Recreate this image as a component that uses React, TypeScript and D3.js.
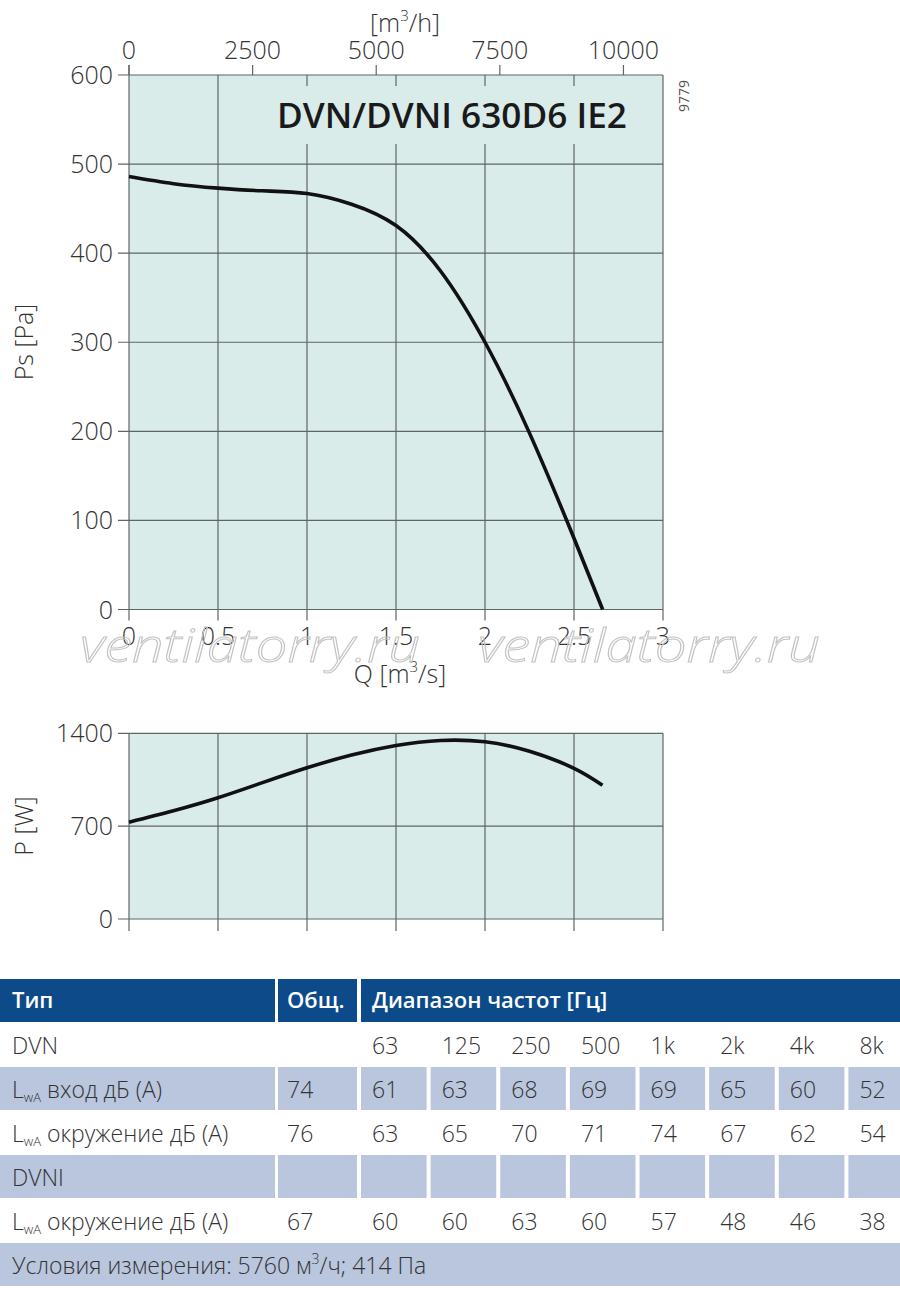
import React from "react";
import * as d3 from "d3";

// fan curve: static pressure vs air flow
const psQ = [0, 0.25, 0.5, 0.75, 1.0, 1.25, 1.5, 1.75, 2.0, 2.25, 2.5, 2.661];
const psVal = [486, 478, 473, 470, 467, 455, 431, 380, 300, 198, 80, 0];

// shaft power vs air flow
const pQ = [0, 0.25, 0.5, 0.75, 1.0, 1.25, 1.5, 1.75, 2.0, 2.25, 2.5, 2.66];
const pVal = [730, 816, 914, 1028, 1140, 1236, 1308, 1346, 1336, 1264, 1136, 1008];

const qTicks = [0, 0.5, 1, 1.5, 2, 2.5, 3];
const m3hTicks = [0, 2500, 5000, 7500, 10000];
const psTicks = [0, 100, 200, 300, 400, 500, 600];
const pTicks = [0, 700, 1400];

const freqs = ["63", "125", "250", "500", "1k", "2k", "4k", "8k"];
const dvnInletTotal = 74;
const dvnInlet = [61, 63, 68, 69, 69, 65, 60, 52];
const dvnAmbTotal = 76;
const dvnAmb = [63, 65, 70, 71, 74, 67, 62, 54];
const dvniAmbTotal = 67;
const dvniAmb = [60, 60, 63, 60, 57, 48, 46, 38];

const font = "'Open Sans', 'DejaVu Sans', sans-serif";
const bg = "#d9ecea";
const grid = "#5f6566";
const txt = "#333";
const blue = "#0c4a8a";
const shade = "#b9c6de";

const App: React.FC = () => {
  const x = d3.scaleLinear().domain([0, 3]).range([129, 663]);
  const xTop = d3.scaleLinear().domain([0, 3 * 3600]).range([129, 663]);
  const yPs = d3.scaleLinear().domain([0, 600]).range([609.5, 75]);
  const yP = d3.scaleLinear().domain([0, 1400]).range([919, 733.3]);

  const psLine = d3.line<number>()
    .x((_, i) => x(psQ[i]))
    .y(d => yPs(d))
    .curve(d3.curveNatural);
  const pLine = d3.line<number>()
    .x((_, i) => x(pQ[i]))
    .y(d => yP(d))
    .curve(d3.curveNatural);

  const col = d3.scaleBand<string>().domain(freqs).range([361, 914]).paddingInner(0.058);
  const rowTop = (i: number) => 1023 + i * 44;
  const rowH = 43;

  const lwa = (label: string) => (
    <>
      L<tspan fontSize={13} dy={4}>wA</tspan><tspan dy={-4}> {label}</tspan>
    </>
  );

  const shadedRow = (i: number) => (
    <g key={"sr" + i} fill={shade}>
      <rect x={0} y={rowTop(i)} width={275} height={rowH} />
      <rect x={278} y={rowTop(i)} width={79} height={rowH} />
      {freqs.map(f => (
        <rect key={f} x={col(f)} y={rowTop(i)} width={col.bandwidth()} height={rowH} />
      ))}
    </g>
  );

  const valueRow = (i: number, total: number | null, vals: (number | string)[]) => (
    <g key={"vr" + i} fontSize={23} fill={txt} fontWeight={300}>
      {total !== null && <text x={287} y={rowTop(i) + 31}>{total}</text>}
      {vals.map((v, j) => (
        <text key={j} x={(col(freqs[j]) ?? 0) + 11} y={rowTop(i) + 31}>{v}</text>
      ))}
    </g>
  );

  return (
    <svg width={900} height={1293} style={{ position: "absolute", left: 0, top: 0, background: "#fff" }} fontFamily={font}>
      {/* main chart */}
      <rect x={x(0)} y={yPs(600)} width={x(3) - x(0)} height={yPs(0) - yPs(600)} fill={bg} />
      {psTicks.map(t => (
        <line key={t} x1={118} x2={x(3)} y1={yPs(t)} y2={yPs(t)} stroke={grid} strokeWidth={1.2} />
      ))}
      {qTicks.map(t => (
        <line key={t} x1={x(t)} x2={x(t)} y1={yPs(600)} y2={yPs(0) + 11} stroke={grid} strokeWidth={1.2} />
      ))}
      <line x1={x(0)} x2={x(0)} y1={yPs(600) - 10} y2={yPs(600)} stroke={grid} strokeWidth={1.2} />
      {m3hTicks.map(t => (
        <line key={t} x1={xTop(t)} x2={xTop(t)} y1={yPs(600) - 10} y2={yPs(600)} stroke={grid} strokeWidth={1.2} />
      ))}
      <rect x={268} y={86} width={363} height={58} fill={bg} />
      <text x={277} y={128} fontSize={35} fontWeight={600} fill="#1a1a1a" textLength={350} lengthAdjust="spacingAndGlyphs">
        DVN/DVNI 630D6 IE2
      </text>
      <path d={psLine(psVal) ?? ""} fill="none" stroke="#111" strokeWidth={3.6} />

      <g fontSize={25} fill={txt} fontWeight={300}>
        {psTicks.map(t => (
          <text key={t} x={113} y={yPs(t) + 9} textAnchor="end">{t}</text>
        ))}
        {qTicks.map(t => (
          <text key={t} x={x(t)} y={645} textAnchor="middle">{t}</text>
        ))}
        {m3hTicks.map(t => (
          <text key={t} x={xTop(t)} y={59} textAnchor="middle">{t}</text>
        ))}
        <text x={405} y={32} textAnchor="middle">
          [m<tspan fontSize={15} dy={-11}>3</tspan><tspan dy={11}>/h]</tspan>
        </text>
        <text x={400} y={683} textAnchor="middle">
          Q [m<tspan fontSize={15} dy={-11}>3</tspan><tspan dy={11}>/s]</tspan>
        </text>
        <text transform="translate(33,342) rotate(-90)" textAnchor="middle">Ps [Pa]</text>
        <text transform="translate(33,826) rotate(-90)" textAnchor="middle">P [W]</text>
      </g>
      <text transform="translate(689,96) rotate(-90)" textAnchor="middle" fontSize={14} fill="#555">9779</text>

      {/* watermark */}
      <g fontSize={46} fontStyle="italic" fontWeight={300} fill="none" stroke="#c3c3c3" strokeWidth={1}>
        <text x={80} y={662} textLength={340} lengthAdjust="spacingAndGlyphs">ventilatorry.ru</text>
        <text x={478} y={662} textLength={342} lengthAdjust="spacingAndGlyphs">ventilatorry.ru</text>
      </g>

      {/* power chart */}
      <rect x={x(0)} y={yP(1400)} width={x(3) - x(0)} height={yP(0) - yP(1400)} fill={bg} />
      {pTicks.map(t => (
        <line key={t} x1={118} x2={x(3)} y1={yP(t)} y2={yP(t)} stroke={grid} strokeWidth={1.2} />
      ))}
      {qTicks.map(t => (
        <line key={t} x1={x(t)} x2={x(t)} y1={yP(1400)} y2={yP(0) + 12} stroke={grid} strokeWidth={1.2} />
      ))}
      <path d={pLine(pVal) ?? ""} fill="none" stroke="#111" strokeWidth={3.6} />
      <g fontSize={25} fill={txt} fontWeight={300}>
        {pTicks.map(t => (
          <text key={t} x={113} y={yP(t) + 9} textAnchor="end">{t}</text>
        ))}
      </g>

      {/* sound table */}
      <g fill={blue}>
        <rect x={0} y={979} width={275} height={43} />
        <rect x={278} y={979} width={79} height={43} />
        <rect x={361} y={979} width={539} height={43} />
      </g>
      <g fontSize={22} fontWeight={600} fill="#fff">
        <text x={12} y={1008}>Тип</text>
        <text x={287} y={1008}>Общ.</text>
        <text x={372} y={1008}>Диапазон частот [Гц]</text>
      </g>
      {shadedRow(1)}
      {shadedRow(3)}
      <rect x={0} y={rowTop(5)} width={900} height={rowH} fill={shade} />

      <g fontSize={23} fill={txt} fontWeight={300}>
        <text x={12} y={rowTop(0) + 31}>DVN</text>
        <text x={12} y={rowTop(1) + 31}>{lwa("вход дБ (А)")}</text>
        <text x={12} y={rowTop(2) + 31}>{lwa("окружение дБ (А)")}</text>
        <text x={12} y={rowTop(3) + 31}>DVNI</text>
        <text x={12} y={rowTop(4) + 31}>{lwa("окружение дБ (А)")}</text>
        <text x={12} y={rowTop(5) + 31}>
          Условия измерения: 5760 м<tspan fontSize={14} dy={-10}>3</tspan><tspan dy={10}>/ч; 414 Па</tspan>
        </text>
      </g>
      {valueRow(0, null, freqs)}
      {valueRow(1, dvnInletTotal, dvnInlet)}
      {valueRow(2, dvnAmbTotal, dvnAmb)}
      {valueRow(4, dvniAmbTotal, dvniAmb)}
    </svg>
  );
};

export default App;
